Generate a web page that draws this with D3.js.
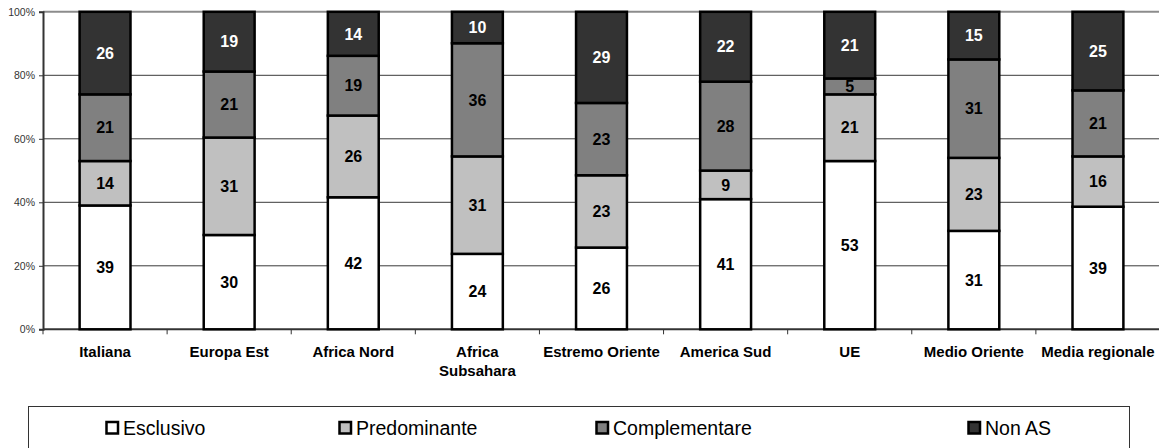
<!DOCTYPE html>
<html>
<head>
<meta charset="utf-8">
<script src="https://cdn.jsdelivr.net/npm/d3@7/dist/d3.min.js"></script>
<style>
  html, body { margin: 0; padding: 0; background: #fff; }
  svg { display: block; font-family: "Liberation Sans", Arial, sans-serif; }
</style>
</head>
<body>
<svg id="chart" width="1159" height="448"></svg>
<script>
// Categories (x axis) — "\n" marks a line break in the label
const categories = ["Italiana", "Europa Est", "Africa Nord", "Africa\nSubsahara", "Estremo Oriente",
                    "America Sud", "UE", "Medio Oriente", "Media regionale"];

// Series values (percent shares per category)
const esclusivo     = [39, 30, 42, 24, 26, 41, 53, 31, 39];
const predominante  = [14, 31, 26, 31, 23,  9, 21, 23, 16];
const complementare = [21, 21, 19, 36, 23, 28,  5, 31, 21];
const nonAS         = [26, 19, 14, 10, 29, 22, 21, 15, 25];

const seriesNames  = ["Esclusivo", "Predominante", "Complementare", "Non AS"];
const seriesColors = ["#ffffff", "#c0c0c0", "#808080", "#333333"];
const labelColors  = ["#000000", "#000000", "#000000", "#ffffff"];

const yTicks = [0, 0.2, 0.4, 0.6, 0.8, 1.0];

const seriesValues = [esclusivo, predominante, complementare, nonAS];

// Build rows and normalise each category to 100%
const rows = categories.map((c, i) => {
  const row = { cat: c };
  const total = d3.sum(seriesValues, s => s[i]);
  seriesNames.forEach((n, k) => { row[n] = seriesValues[k][i] / total; row[n + "_v"] = seriesValues[k][i]; });
  return row;
});

const stack = d3.stack().keys(seriesNames);
const stacked = stack(rows);

const svg = d3.select("#chart");

const plot = { left: 43, right: 1160, top: 11.8, bottom: 329.3 };

const x = d3.scaleBand()
  .domain(categories)
  .range([plot.left, plot.right])
  .paddingInner(0.59)
  .paddingOuter(0.295);

const y = d3.scaleLinear().domain([0, 1]).range([plot.bottom, plot.top]);

// Horizontal gridlines
svg.append("g")
  .selectAll("line")
  .data(yTicks.filter(t => t > 0))
  .join("line")
  .attr("x1", plot.left)
  .attr("x2", plot.right)
  .attr("y1", d => y(d))
  .attr("y2", d => y(d))
  .attr("stroke", d => d === 1 ? "#8c8c8c" : "#3a3a3a")
  .attr("stroke-width", d => d === 1 ? 2 : 1);

// Y axis
const yAxis = d3.axisLeft(y)
  .tickValues(yTicks)
  .tickFormat(d3.format(".0%"))
  .tickSize(4)
  .tickPadding(4);

const gy = svg.append("g")
  .attr("transform", `translate(${plot.left},0)`)
  .call(yAxis);
gy.select(".domain").attr("stroke", "#333").attr("stroke-width", 2);
gy.selectAll(".tick line").attr("stroke", "#333");
gy.selectAll(".tick text")
  .attr("font-size", 10.5)
  .attr("fill", "#333")
  .attr("font-family", "Liberation Sans, Arial, sans-serif");

// X axis line with ticks at category boundaries
const boundaries = d3.range(categories.length + 1).map(i => plot.left + i * x.step());
svg.append("line")
  .attr("x1", plot.left).attr("x2", plot.right)
  .attr("y1", plot.bottom).attr("y2", plot.bottom)
  .attr("stroke", "#333").attr("stroke-width", 2);
svg.append("g")
  .selectAll("line")
  .data(boundaries)
  .join("line")
  .attr("x1", d => d).attr("x2", d => d)
  .attr("y1", plot.bottom).attr("y2", plot.bottom + 5)
  .attr("stroke", "#333").attr("stroke-width", 1);

// Category labels
const xl = svg.append("g")
  .selectAll("text")
  .data(categories)
  .join("text")
  .attr("x", d => x(d) + x.bandwidth() / 2)
  .attr("y", 357)
  .attr("text-anchor", "middle")
  .attr("font-size", 15)
  .attr("font-weight", "bold")
  .attr("fill", "#000");
xl.each(function(d) {
  const lines = d.split("\n");
  d3.select(this).selectAll("tspan")
    .data(lines)
    .join("tspan")
    .attr("x", x(d) + x.bandwidth() / 2)
    .attr("dy", (l, i) => i === 0 ? 0 : 18.5)
    .text(l => l);
});

// Stacked bars
const layers = svg.append("g")
  .selectAll("g")
  .data(stacked)
  .join("g")
  .attr("fill", (d, i) => seriesColors[i]);

layers.selectAll("rect")
  .data(d => d)
  .join("rect")
  .attr("x", d => x(d.data.cat))
  .attr("width", x.bandwidth())
  .attr("y", d => y(d[1]))
  .attr("height", d => y(d[0]) - y(d[1]))
  .attr("stroke", "#000")
  .attr("stroke-width", 2.5);

// Value labels
svg.append("g")
  .selectAll("g")
  .data(stacked)
  .join("g")
  .each(function(s, k) {
    d3.select(this).selectAll("text")
      .data(s)
      .join("text")
      .attr("x", d => x(d.data.cat) + x.bandwidth() / 2)
      .attr("y", d => (y(d[0]) + y(d[1])) / 2)
      .attr("dy", "0.36em")
      .attr("text-anchor", "middle")
      .attr("font-size", 16)
      .attr("font-weight", "bold")
      .attr("fill", labelColors[k])
      .text(d => d.data[s.key + "_v"]);
  });

// Legend
const legend = svg.append("g");
legend.append("rect")
  .attr("x", 28.5).attr("y", 406.5)
  .attr("width", 1101).attr("height", 60)
  .attr("fill", "#fff")
  .attr("stroke", "#333")
  .attr("stroke-width", 1);

const legendX = [105, 338, 595, 967];
const items = legend.selectAll("g.item")
  .data(seriesNames)
  .join("g")
  .attr("class", "item")
  .attr("transform", (d, i) => `translate(${legendX[i]},0)`);
items.append("rect")
  .attr("x", 1.5).attr("y", 422)
  .attr("width", 11.5).attr("height", 11.5)
  .attr("fill", (d, i) => seriesColors[i])
  .attr("stroke", "#000")
  .attr("stroke-width", 2.5);
items.append("text")
  .attr("x", 18)
  .attr("y", 435)
  .attr("font-size", 19.5)
  .attr("fill", "#000")
  .text(d => d);
</script>
</body>
</html>
